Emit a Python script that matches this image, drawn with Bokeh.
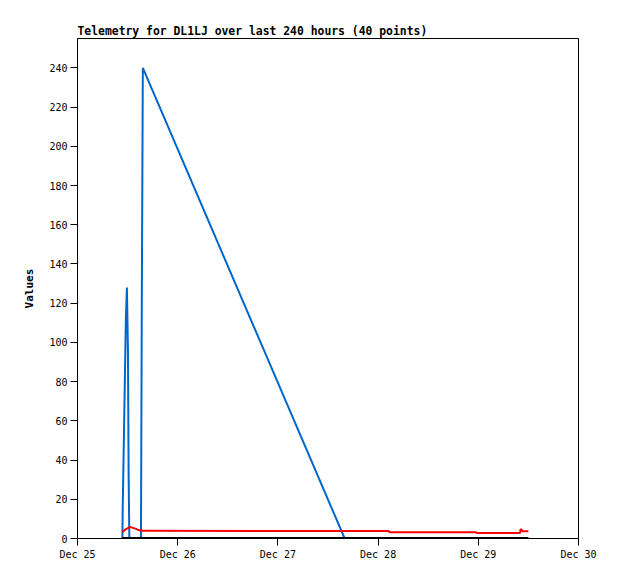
from datetime import datetime
from bokeh.plotting import figure
from bokeh.models import FixedTicker, Range1d, ColumnDataSource
from bokeh.embed import file_html
from bokeh.resources import INLINE

times = [
    "2023-12-25 10:45", "2023-12-25 10:50", "2023-12-25 11:05", "2023-12-25 11:20",
    "2023-12-25 11:35", "2023-12-25 11:50", "2023-12-25 12:05", "2023-12-25 12:15",
    "2023-12-25 12:25", "2023-12-25 12:48", "2023-12-25 13:18", "2023-12-25 14:00",
    "2023-12-25 14:36", "2023-12-25 15:00", "2023-12-25 15:12", "2023-12-25 15:24",
    "2023-12-25 15:39", "2023-12-27 16:00", "2023-12-28 02:36", "2023-12-28 02:42",
    "2023-12-28 23:30", "2023-12-28 23:36", "2023-12-29 10:00", "2023-12-29 10:06",
    "2023-12-29 10:24", "2023-12-29 10:30", "2023-12-29 12:00",
]
blue_values = [0, 16, 48, 80, 112, 128, 96, 32, 0, 0, 0, 0, 0, 0, 0, 120, 240,
               0, 0, 0, 0, 0, 0, 0, 0, 0, 0]
red_values = [3.2, 3.4, 3.8, 4.4, 4.8, 5.0, 5.3, 5.5, 5.6, 5.8, 5.4, 4.9, 4.3, 4.1,
              4.5, 4.1, 3.9, 3.8, 3.8, 3.2, 3.2, 2.8, 2.8, 4.6, 4.6, 3.7, 3.7]
black_values = [0] * len(times)

x_tick_dates = ["2023-12-25", "2023-12-26", "2023-12-27", "2023-12-28", "2023-12-29", "2023-12-30"]
x_tick_labels = ["Dec 25", "Dec 26", "Dec 27", "Dec 28", "Dec 29", "Dec 30"]
y_ticks = [0, 20, 40, 60, 80, 100, 120, 140, 160, 180, 200, 220, 240]

EPOCH = datetime(1970, 1, 1)
def ms(d):
    return (d - EPOCH).total_seconds() * 1000.0

t = [datetime.strptime(s, "%Y-%m-%d %H:%M") for s in times]
xt = [datetime.strptime(s, "%Y-%m-%d") for s in x_tick_dates]
xt_ms = [ms(d) for d in xt]

src = ColumnDataSource(dict(t=t, blue=blue_values, red=red_values, black=black_values))

MONO = "DejaVu Sans Mono"
p = figure(width=610, height=571, x_axis_type="datetime",
           output_backend="svg", toolbar_location=None,
           x_range=Range1d(xt[0], xt[-1]), y_range=Range1d(0, 255),
           title="Telemetry for DL1LJ over last 240 hours (40 points)",
           min_border_left=77, min_border_right=32, min_border_top=38, min_border_bottom=33)

p.line("t", "blue", source=src, line_color="#0066cc", line_width=2)
p.line("t", "red", source=src, line_color="#ff0000", line_width=2)
p.line("t", "black", source=src, line_color="#000000", line_width=3)

p.title.text_font = MONO
p.title.text_font_style = "bold"
p.title.text_font_size = "11.4px"
p.title.text_color = "#000000"
p.title.align = "left"
p.title.standoff = 2

p.xgrid.visible = False
p.ygrid.visible = False
p.outline_line_color = "#000000"
p.outline_line_alpha = 1
p.background_fill_color = "white"
p.border_fill_color = "white"

p.xaxis.ticker = FixedTicker(ticks=xt_ms)
p.xaxis.major_label_overrides = {v: l for v, l in zip(xt_ms, x_tick_labels)}
p.yaxis.ticker = FixedTicker(ticks=y_ticks)
p.yaxis.axis_label = "Values"
p.yaxis.axis_label_text_font = MONO
p.yaxis.axis_label_text_font_style = "bold"
p.yaxis.axis_label_text_font_size = "11px"
p.yaxis.axis_label_text_color = "#000000"
p.yaxis.axis_label_standoff = 10

for ax in (p.xaxis, p.yaxis):
    ax.major_tick_in = 0
    ax.major_tick_out = 7
    ax.minor_tick_line_color = None
    ax.major_label_text_font = MONO
    ax.major_label_text_font_size = "10px"
    ax.major_label_text_color = "#000000"
    ax.axis_line_color = "#000000"
    ax.major_tick_line_color = "#000000"
    ax.major_label_standoff = 3

open("out.html", "w").write(file_html(p, INLINE))
